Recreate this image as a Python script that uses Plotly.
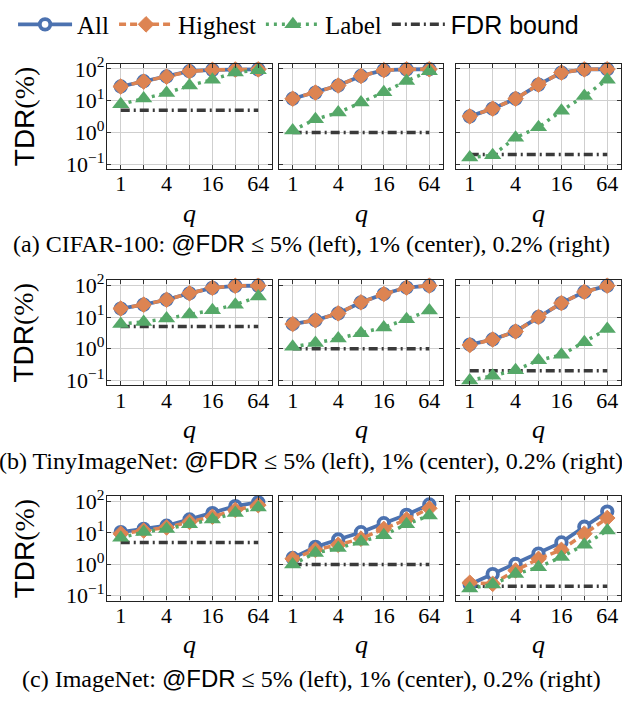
import plotly.graph_objects as go

q = [1, 2, 4, 8, 16, 32, 64]
x_tick_text = ["1", "", "4", "", "16", "", "64"]
y_tick_vals = [0.1, 1, 10, 100]
y_tick_text = ["10<sup>−1</sup>", "10<sup>0</sup>", "10<sup>1</sup>", "10<sup>2</sup>"]
fdr_levels = [5, 1, 0.2]

# CIFAR-100
cifar_all_5 = [28, 41, 58, 85, 94, 96, 97]
cifar_high_5 = [28, 40, 57, 84, 94, 96, 97]
cifar_label_5 = [7.7, 11.8, 17.5, 30, 46, 78, 92]
cifar_all_1 = [11.5, 18, 30, 60, 92, 97, 98]
cifar_high_1 = [11.5, 18, 30, 60, 92, 97, 98]
cifar_label_1 = [1.15, 2.6, 4.2, 8.7, 18.5, 42, 85]
cifar_all_02 = [3.2, 5.6, 11.5, 32, 77, 97, 98]
cifar_high_02 = [3.2, 5.6, 11.5, 32, 77, 97, 98]
cifar_label_02 = [0.16, 0.19, 0.68, 1.45, 4.8, 14, 46]

# TinyImageNet
tiny_all_5 = [18.5, 24.5, 35, 56, 83, 96, 97]
tiny_high_5 = [18.5, 24.5, 35, 56, 83, 96, 97]
tiny_label_5 = [6.0, 7.0, 8.9, 12, 16.3, 24.5, 44]
tiny_all_1 = [6.0, 7.9, 13, 29, 53, 85, 97]
tiny_high_1 = [6.0, 7.9, 13, 29, 53, 85, 97]
tiny_label_1 = [1.15, 1.5, 2.1, 3.1, 4.7, 8.5, 16]
tiny_all_02 = [1.35, 1.95, 3.5, 10, 27.5, 62, 97]
tiny_high_02 = [1.3, 1.95, 3.5, 10, 27.5, 62, 97]
tiny_label_02 = [0.10, 0.14, 0.21, 0.43, 0.64, 1.6, 4.2]

# ImageNet
imnet_all_5 = [10.7, 13.5, 17, 27, 43, 72, 95]
imnet_high_5 = [9.5, 12, 15, 22.5, 33, 54, 77]
imnet_label_5 = [7, 10.7, 13.5, 19, 27, 43, 65]
imnet_all_1 = [1.6, 3.6, 6.2, 10.6, 20.5, 38, 81]
imnet_high_1 = [1.5, 2.9, 4.2, 6.6, 13.5, 27, 61]
imnet_label_1 = [1.0, 2.3, 3.3, 5.3, 8.5, 19, 36]
imnet_all_02 = [0.23, 0.49, 1.03, 2.2, 5.0, 15.8, 48]
imnet_high_02 = [0.26, 0.24, 0.64, 1.5, 2.9, 9.5, 30]
imnet_label_02 = [0.17, 0.23, 0.49, 0.81, 1.73, 4.2, 12]

captions = [
    "(a) CIFAR-100: ",
    "(b) TinyImageNet: ",
    "(c) ImageNet: ",
]

panels = [
    [(cifar_all_5, cifar_high_5, cifar_label_5),
     (cifar_all_1, cifar_high_1, cifar_label_1),
     (cifar_all_02, cifar_high_02, cifar_label_02)],
    [(tiny_all_5, tiny_high_5, tiny_label_5),
     (tiny_all_1, tiny_high_1, tiny_label_1),
     (tiny_all_02, tiny_high_02, tiny_label_02)],
    [(imnet_all_5, imnet_high_5, imnet_label_5),
     (imnet_all_1, imnet_high_1, imnet_label_1),
     (imnet_all_02, imnet_high_02, imnet_label_02)],
]

W, H = 622, 704
SERIF = "Liberation Serif"
SANS = "Liberation Sans"
BLUE = "#4C72B0"
ORANGE = "#DD8452"
GREEN = "#55A868"
DARK = "#3a3a3a"

col_px = [(107, 272), (279, 443), (456, 621)]
row_px = [(55, 163), (277, 385), (499, 606)]
qlabel_y = [209, 430, 651]
caption_y = [240, 462, 686]

fig = go.Figure()
layout = dict(
    width=W, height=H, margin=dict(l=0, r=0, t=0, b=0),
    paper_bgcolor="white", plot_bgcolor="white",
    font=dict(family=SERIF, size=20, color="black"),
    showlegend=True,
    legend=dict(orientation="h", x=0.48, xanchor="center", y=1 - 15 / H, yanchor="middle",
                font=dict(family=SERIF, size=25), itemwidth=54,
                bgcolor="rgba(0,0,0,0)", tracegroupgap=0),
)
annotations = []

idx = 0
for r in range(3):
    for c in range(3):
        idx += 1
        xs = "x" if idx == 1 else f"x{idx}"
        ys = "y" if idx == 1 else f"y{idx}"
        xa = "xaxis" if idx == 1 else f"xaxis{idx}"
        ya = "yaxis" if idx == 1 else f"yaxis{idx}"
        x0, x1 = col_px[c]
        y0, y1 = row_px[r]
        all_v, high_v, label_v = panels[r][c]
        first = idx == 1
        fig.add_trace(go.Scatter(
            x=q, y=[fdr_levels[c]] * len(q), xaxis=xs, yaxis=ys, mode="lines",
            line=dict(color=DARK, width=3.5, dash="9px,4px,2px,4px"),
            name=f'<span style="font-family:{SANS}">FDR bound</span>',
            legendgroup="fdr", showlegend=first, cliponaxis=False, legendrank=4))
        fig.add_trace(go.Scatter(
            x=q, y=all_v, xaxis=xs, yaxis=ys, mode="lines+markers",
            line=dict(color=BLUE, width=3.8),
            marker=dict(symbol="circle", size=10.5, color="white",
                        line=dict(color=BLUE, width=3.8)),
            name="All", legendgroup="all", showlegend=first, cliponaxis=False,
            legendrank=1))
        fig.add_trace(go.Scatter(
            x=q, y=high_v, xaxis=xs, yaxis=ys, mode="lines+markers",
            line=dict(color=ORANGE, width=3.5, dash="7px,4px"),
            marker=dict(symbol="diamond", size=12, color=ORANGE,
                        line=dict(color=ORANGE, width=1)),
            name="Highest", legendgroup="high", showlegend=first, cliponaxis=False,
            legendrank=2))
        fig.add_trace(go.Scatter(
            x=q, y=label_v, xaxis=xs, yaxis=ys, mode="lines+markers",
            line=dict(color=GREEN, width=3.5, dash="3px,5px"),
            marker=dict(symbol="triangle-up", size=15, color=GREEN,
                        line=dict(color=GREEN, width=0)),
            name="Label", legendgroup="label", showlegend=first, cliponaxis=False,
            legendrank=3))

        layout[xa] = dict(
            type="log", domain=[x0 / W, x1 / W], anchor=ys,
            range=[-0.6 * 0.30103, 6.6 * 0.30103],
            tickvals=q, ticktext=x_tick_text, ticks="inside", ticklen=4,
            tickcolor="#333", tickwidth=1,
            showline=True, linecolor="#222", linewidth=1.3, mirror="ticks",
            showgrid=True, gridcolor="#cfcfcf", gridwidth=1, zeroline=False,
            tickfont=dict(family=SERIF, size=22), ticklabelstandoff=-5,
        )
        layout[ya] = dict(
            type="log", domain=[1 - y1 / H, 1 - y0 / H], anchor=xs,
            range=[-1.15, 2.17],
            tickvals=y_tick_vals, ticktext=y_tick_text, ticks="inside", ticklen=4,
            tickcolor="#333", tickwidth=1,
            showline=True, linecolor="#222", linewidth=1.3, mirror="ticks",
            showgrid=True, gridcolor="#cfcfcf", gridwidth=1, zeroline=False,
            showticklabels=(c == 0),
            tickfont=dict(family=SERIF, size=22), ticklabelstandoff=-3,
        )
        annotations.append(dict(
            text="<i>q</i>", x=(x0 + x1) / 2 / W, y=1 - qlabel_y[r] / H,
            xref="paper", yref="paper", showarrow=False,
            xanchor="center", yanchor="middle",
            font=dict(family=SERIF, size=26)))
    annotations.append(dict(
        text=f'<span style="font-family:{SANS}">TDR</span>(%)',
        x=24 / W, y=1 - (row_px[r][0] + row_px[r][1]) / 2 / H,
        xref="paper", yref="paper", showarrow=False, textangle=-90,
        xanchor="center", yanchor="middle",
        font=dict(family=SERIF, size=28)))
    annotations.append(dict(
        text=(captions[r] + f'<span style="font-family:{SANS}">@FDR</span> ≤ 5% (left), '
              "1% (center), 0.2% (right)"),
        x=0.5, y=1 - caption_y[r] / H, xref="paper", yref="paper",
        showarrow=False, xanchor="center", yanchor="middle",
        font=dict(family=SERIF, size=24)))

layout["annotations"] = annotations
fig.update_layout(**layout)
fig.write_html("out.html", config={"displayModeBar": False},
               post_script="document.body.style.margin='0';")
